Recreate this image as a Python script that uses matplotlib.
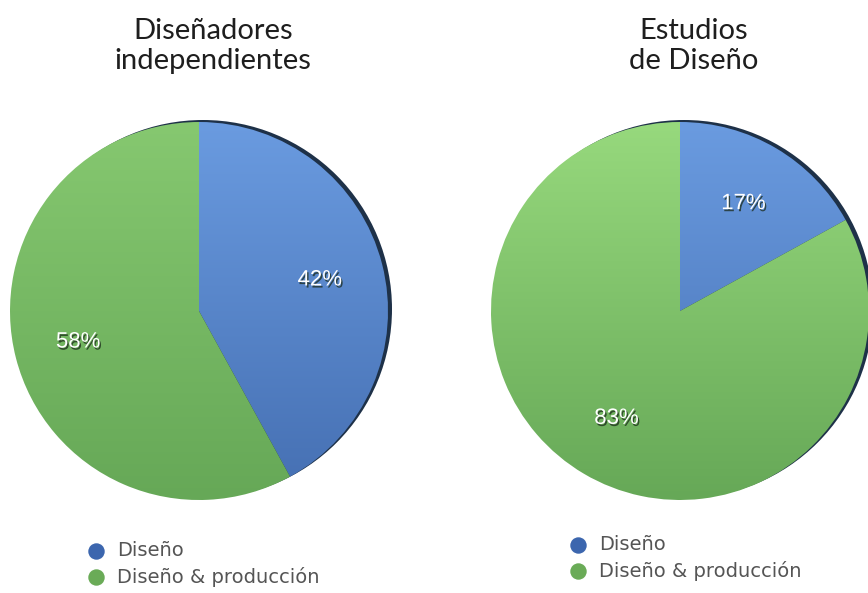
import numpy as np
import matplotlib.pyplot as plt
import matplotlib.patheffects as pe
from matplotlib.colors import LinearSegmentedColormap
from matplotlib.patches import Circle

# survey shares, percent
titles = ['Diseñadores\nindependientes', 'Estudios\nde Diseño']
categories = ['Diseño', 'Diseño & producción']
shares_freelance = [42, 58]
shares_studio = [17, 83]

W, H = 868, 593
fig = plt.figure(figsize=(W / 100, H / 100), dpi=100)
ax = fig.add_axes([0, 0, 1, 1])

blue_cmap = LinearSegmentedColormap.from_list('blue_fill', ['#456fb2', '#6a9be0'])
marker_colors = ['#3c66ae', '#6aab57']


def draw_pie(shares, title, cx, cy, r, legend_x, legend_y, green_top):
    green_cmap = LinearSegmentedColormap.from_list('green_fill', ['#66a857', green_top])

    # dark side of the disc peeking out on the right
    ax.add_patch(Circle((cx + 4, cy + 2), r, color='#1e3148', lw=0, zorder=1))

    wedges, _, pct_texts = ax.pie(
        shares, colors=['none', 'none'], startangle=90, counterclock=False,
        center=(cx, cy), radius=r, autopct=lambda p: f'{p:.0f}%',
        pctdistance=0.66, wedgeprops=dict(linewidth=0))

    grad = np.linspace(0, 1, 256).reshape(-1, 1)
    for wedge, cmap in zip(wedges, [blue_cmap, green_cmap]):
        im = ax.imshow(grad, extent=(cx - r, cx + r, cy - r, cy + r), origin='lower',
                       cmap=cmap, aspect='auto', zorder=2)
        im.set_clip_path(wedge)

    for t in pct_texts:
        t.set(color='white', fontsize=16, fontfamily='Liberation Sans', zorder=5)
        t.set_path_effects([pe.withSimplePatchShadow(offset=(1, -1.5), shadow_rgbFace='#1a2a1a', alpha=0.75)])

    ax.text(cx + 14, H - 46, title, ha='center', va='center', fontsize=21,
            fontfamily='Lato', color='#1e1e1e', linespacing=1.2)

    for i, (label, c) in enumerate(zip(categories, marker_colors)):
        y = legend_y - i * 26
        ax.scatter([legend_x], [y], s=140, color=c, zorder=5, linewidths=0)
        ax.text(legend_x + 21, y, label, va='center', ha='left', fontsize=14,
                fontfamily='DejaVu Sans', color='#555555')


draw_pie(shares_freelance, titles[0], 199, H - 311, 189, 96, H - 551, '#86c870')
draw_pie(shares_studio, titles[1], 680, H - 311, 189, 578, H - 545, '#97d97d')

ax.set_xlim(0, W)
ax.set_ylim(0, H)
ax.set_aspect('auto')
ax.axis('off')

fig.savefig('out.png', dpi=100, facecolor='white')
